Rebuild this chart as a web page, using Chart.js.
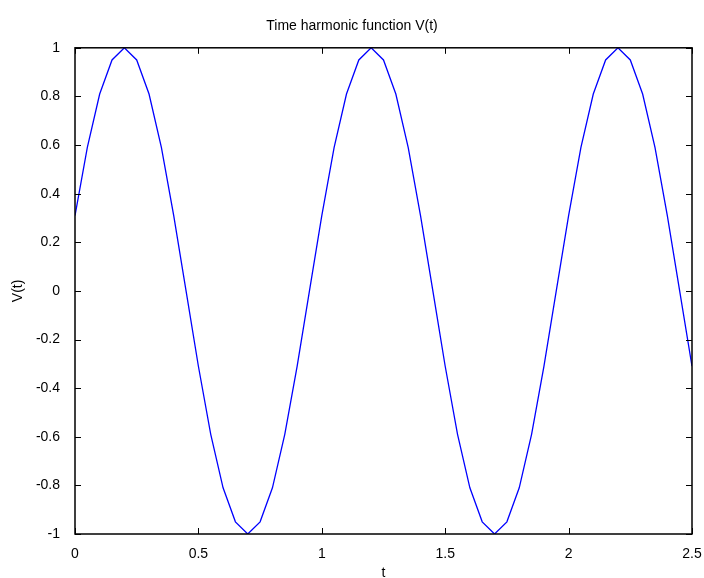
<!DOCTYPE html>
<html>
<head>
<meta charset="utf-8">
<script src="https://cdn.jsdelivr.net/npm/chart.js@4/dist/chart.umd.min.js"></script>
<style>
  html, body { margin: 0; padding: 0; background: #fff; }
  #wrap { width: 704px; height: 578px; }
</style>
</head>
<body>
<div id="wrap"><canvas id="harmChart" width="704" height="578"></canvas></div>
<script>
// sample times (step 0.05) and the values
const tValues = [
  0, 0.05, 0.1, 0.15, 0.2, 0.25, 0.3, 0.35, 0.4, 0.45,
  0.5, 0.55, 0.6, 0.65, 0.7, 0.75, 0.8, 0.85, 0.9, 0.95,
  1, 1.05, 1.1, 1.15, 1.2, 1.25, 1.3, 1.35, 1.4, 1.45,
  1.5, 1.55, 1.6, 1.65, 1.7, 1.75, 1.8, 1.85, 1.9, 1.95,
  2, 2.05, 2.1, 2.15, 2.2, 2.25, 2.3, 2.35, 2.4, 2.45, 2.5
];
const vValues = [
  0.31, 0.59, 0.81, 0.95, 1, 0.95, 0.81, 0.59, 0.31, 0,
  -0.31, -0.59, -0.81, -0.95, -1, -0.95, -0.81, -0.59, -0.31, 0,
  0.31, 0.59, 0.81, 0.95, 1, 0.95, 0.81, 0.59, 0.31, 0,
  -0.31, -0.59, -0.81, -0.95, -1, -0.95, -0.81, -0.59, -0.31, 0,
  0.31, 0.59, 0.81, 0.95, 1, 0.95, 0.81, 0.59, 0.31, 0,
  -0.31
];
const xTicks = [0, 0.5, 1, 1.5, 2, 2.5];
const yTicks = [-1, -0.8, -0.6, -0.4, -0.2, 0, 0.2, 0.4, 0.6, 0.8, 1];

const FONT = '"Liberation Sans", Arial, sans-serif';

// matlab style frame: box all round, ticks pointing inward on every side
const boxPlugin = {
  id: 'boxPlugin',
  afterDatasetsDraw(chart) {
    const { ctx, chartArea: a, scales } = chart;
    const len = 6;
    ctx.save();
    ctx.strokeStyle = '#000';
    ctx.lineWidth = 1;
    xTicks.forEach(v => {
      const px = Math.round(scales.x.getPixelForValue(v)) + 0.5;
      ctx.beginPath();
      ctx.moveTo(px, a.bottom); ctx.lineTo(px, a.bottom - len);
      ctx.moveTo(px, a.top); ctx.lineTo(px, a.top + len);
      ctx.stroke();
    });
    yTicks.forEach(v => {
      const py = Math.round(scales.y.getPixelForValue(v)) + 0.5;
      ctx.beginPath();
      ctx.moveTo(a.left, py); ctx.lineTo(a.left + len, py);
      ctx.moveTo(a.right, py); ctx.lineTo(a.right - len, py);
      ctx.stroke();
    });
    ctx.lineWidth = 1.5;
    ctx.strokeRect(a.left, a.top, a.right - a.left, a.bottom - a.top);
    ctx.restore();
  }
};

const fmt = v => String(Number(v.toFixed(1)));

new Chart(document.getElementById('harmChart'), {
  type: 'line',
  data: {
    datasets: [{
      label: 'V(t)',
      data: tValues.map((t, i) => ({ x: t, y: vValues[i] })),
      borderColor: '#0000ff',
      borderWidth: 1.3,
      pointRadius: 0,
      tension: 0,
      fill: false
    }]
  },
  options: {
    responsive: false,
    animation: false,
    layout: { padding: 0 },
    plugins: {
      legend: { display: false },
      tooltip: { enabled: false },
      title: {
        display: true,
        text: 'Time harmonic function V(t)',
        color: '#000',
        font: { family: FONT, size: 14, weight: 'normal' },
        padding: { top: 18, bottom: 13 }
      }
    },
    scales: {
      x: {
        type: 'linear',
        min: 0, max: 2.5,
        afterBuildTicks: s => { s.ticks = xTicks.map(v => ({ value: v })); },
        afterFit: s => { s.height = 44; s.paddingRight = 12; },
        grid: { display: false },
        border: { display: false },
        ticks: {
          color: '#000', padding: 4, maxRotation: 0,
          font: { family: FONT, size: 14 },
          callback: fmt
        },
        title: {
          display: true, text: 't', color: '#000',
          font: { family: FONT, size: 14 },
          padding: { top: 0, bottom: -4 }
        }
      },
      y: {
        min: -1, max: 1,
        afterBuildTicks: s => { s.ticks = yTicks.map(v => ({ value: v })); },
        afterFit: s => { s.width = 75; },
        grid: { display: false },
        border: { display: false },
        ticks: {
          color: '#000', padding: 7,
          font: { family: FONT, size: 14 },
          callback: fmt
        },
        title: {
          display: true, text: 'V(t)', color: '#000',
          font: { family: FONT, size: 14 },
          padding: { top: 10, bottom: 0 }
        }
      }
    }
  },
  plugins: [boxPlugin]
});
</script>
</body>
</html>
